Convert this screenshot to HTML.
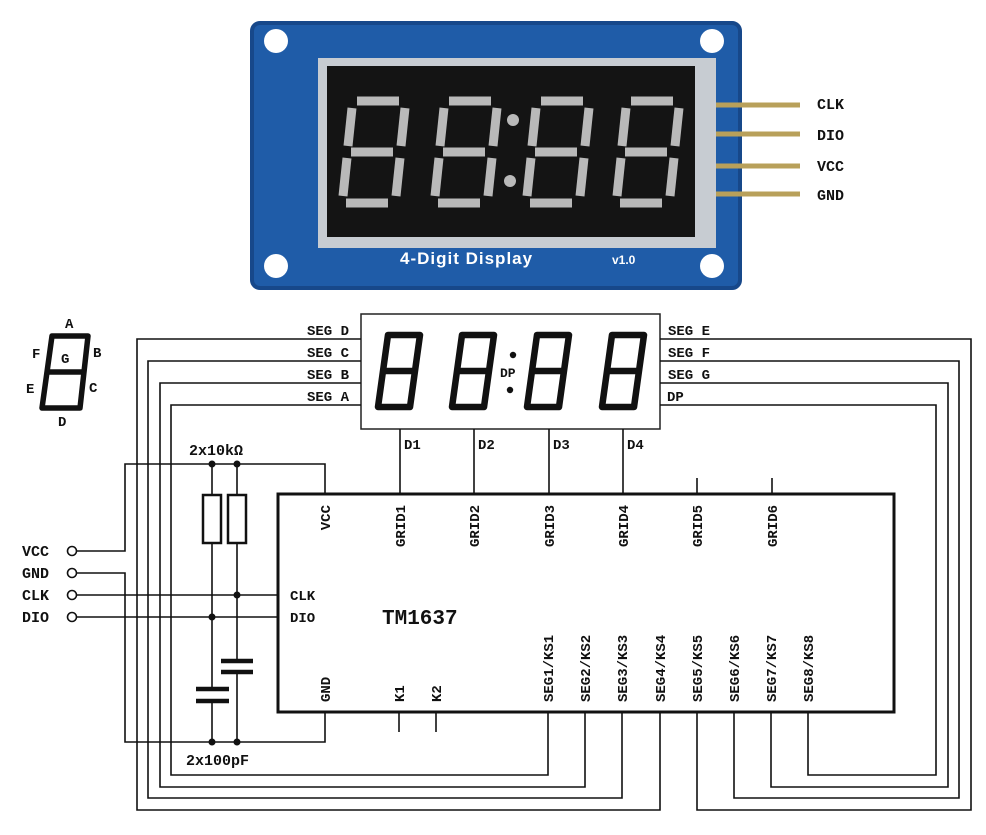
<!DOCTYPE html>
<html><head><meta charset="utf-8"><style>
html,body{margin:0;padding:0;background:#fff;}
svg{display:block;}
text{font-family:"Liberation Mono","DejaVu Sans Mono",monospace;font-weight:bold;fill:#111;}
</style></head><body>
<svg width="986" height="835" viewBox="0 0 986 835" xmlns="http://www.w3.org/2000/svg">
<defs>
<g id="dg"><path d="M13,3 H45 L35,75 H3 Z M8,39 H40" fill="none" stroke="#111" stroke-width="6.5" stroke-linejoin="round"/></g>
<g id="pd" stroke="#b9b9b9" stroke-width="9" fill="none">
<line x1="14" y1="5" x2="56" y2="5"/>
<line x1="8" y1="56" x2="50" y2="56"/>
<line x1="3" y1="107" x2="45" y2="107"/>
<line x1="9" y1="12" x2="5" y2="50"/>
<line x1="62" y1="12" x2="58" y2="50"/>
<line x1="4" y1="62" x2="0" y2="100"/>
<line x1="57" y1="62" x2="53" y2="100"/>
</g>
</defs>
<!-- photo -->
<rect x="252" y="23" width="488" height="265" rx="8" fill="#1f5ca8"/>
<rect x="252" y="23" width="488" height="265" rx="8" fill="none" stroke="#17488a" stroke-width="4"/>
<circle cx="276" cy="41" r="12" fill="#fff"/>
<circle cx="712" cy="41" r="12" fill="#fff"/>
<circle cx="276" cy="266" r="12" fill="#fff"/>
<circle cx="712" cy="266" r="12" fill="#fff"/>
<rect x="318" y="58" width="398" height="190" fill="#c7ccd2"/>
<rect x="327" y="66" width="368" height="171" fill="#141414"/>
<use href="#pd" x="343" y="96"/>
<use href="#pd" x="435" y="96"/>
<use href="#pd" x="527" y="96"/>
<use href="#pd" x="617" y="96"/>
<circle cx="513" cy="120" r="6" fill="#b9b9b9"/>
<circle cx="510" cy="181" r="6" fill="#b9b9b9"/>
<g stroke="#b8a05a" stroke-width="5">
<line x1="716" y1="105" x2="800" y2="105"/>
<line x1="716" y1="134" x2="800" y2="134"/>
<line x1="716" y1="166" x2="800" y2="166"/>
<line x1="716" y1="194" x2="800" y2="194"/>
</g>
<text x="400" y="264" style="fill:#fff;font-family:'Liberation Sans',sans-serif;font-size:17px;letter-spacing:1px">4-Digit Display</text>
<text x="612" y="264" style="fill:#fff;font-family:'Liberation Sans',sans-serif;font-size:12px">v1.0</text>
<g font-size="15"><text x="817" y="109">CLK</text><text x="817" y="140">DIO</text><text x="817" y="171">VCC</text><text x="817" y="200">GND</text></g>

<!-- small digit key -->
<path d="M52,336 H88 L80,408 H42 Z M47,372 H84" fill="none" stroke="#111" stroke-width="5.5" stroke-linejoin="round"/>
<g font-size="14"><text x="65" y="328">A</text><text x="32" y="358">F</text><text x="93" y="357">B</text><text x="61" y="363">G</text><text x="26" y="393">E</text><text x="89" y="392">C</text><text x="58" y="426">D</text></g>

<!-- display -->
<rect x="361" y="314" width="299" height="115" fill="none" stroke="#222" stroke-width="1.5"/>
<use href="#dg" x="375" y="332"/>
<use href="#dg" x="449" y="332"/>
<use href="#dg" x="524" y="332"/>
<use href="#dg" x="599" y="332"/>
<circle cx="513" cy="355" r="3.2" fill="#111"/>
<circle cx="510" cy="390" r="3.2" fill="#111"/>
<text x="500" y="377" font-size="13">DP</text>
<g font-size="14" text-anchor="end"><text x="349" y="335">SEG D</text><text x="349" y="357">SEG C</text><text x="349" y="379">SEG B</text><text x="349" y="401">SEG A</text></g>
<g font-size="14"><text x="668" y="335">SEG E</text><text x="668" y="357">SEG F</text><text x="668" y="379">SEG G</text><text x="667" y="401">DP</text></g>
<g font-size="14"><text x="404" y="449">D1</text><text x="478" y="449">D2</text><text x="553" y="449">D3</text><text x="627" y="449">D4</text></g>

<g fill="none" stroke="#111" stroke-width="1.6">
<!-- left seg wires -->
<polyline points="361,339 137,339 137,810 660,810 660,712"/>
<polyline points="361,361 148,361 148,798 622,798 622,712"/>
<polyline points="361,383 160,383 160,787 585,787 585,712"/>
<polyline points="361,405 171,405 171,775 548,775 548,712"/>
<!-- right seg wires -->
<polyline points="660,339 971,339 971,810 697,810 697,712"/>
<polyline points="660,361 959,361 959,798 734,798 734,712"/>
<polyline points="660,383 948,383 948,787 771,787 771,712"/>
<polyline points="660,405 936,405 936,775 808,775 808,712"/>
<!-- grids -->
<line x1="400" y1="429" x2="400" y2="494"/>
<line x1="474" y1="429" x2="474" y2="494"/>
<line x1="549" y1="429" x2="549" y2="494"/>
<line x1="623" y1="429" x2="623" y2="494"/>
<line x1="697" y1="478" x2="697" y2="494"/>
<line x1="772" y1="478" x2="772" y2="494"/>
<line x1="399" y1="712" x2="399" y2="732"/>
<line x1="436" y1="712" x2="436" y2="732"/>
<!-- power / signals -->
<polyline points="76,551 125,551 125,464 325,464 325,494"/>
<polyline points="76,573 125,573 125,742 325,742 325,712"/>
<line x1="76" y1="595" x2="278" y2="595"/>
<line x1="76" y1="617" x2="278" y2="617"/>
<line x1="212" y1="464" x2="212" y2="495"/>
<line x1="237" y1="464" x2="237" y2="495"/>
<line x1="212" y1="543" x2="212" y2="689"/>
<line x1="212" y1="701" x2="212" y2="742"/>
<line x1="237" y1="543" x2="237" y2="661"/>
<line x1="237" y1="672" x2="237" y2="742"/>
</g>
<g fill="none" stroke="#111" stroke-width="2.5">
<rect x="203" y="495" width="18" height="48"/>
<rect x="228" y="495" width="18" height="48"/>
</g>
<g stroke="#111" stroke-width="4.5">
<line x1="221" y1="661" x2="253" y2="661"/>
<line x1="221" y1="672" x2="253" y2="672"/>
<line x1="196" y1="689" x2="229" y2="689"/>
<line x1="196" y1="701" x2="229" y2="701"/>
</g>
<g fill="#111">
<circle cx="212" cy="464" r="3.5"/><circle cx="237" cy="464" r="3.5"/>
<circle cx="237" cy="595" r="3.5"/><circle cx="212" cy="617" r="3.5"/>
<circle cx="212" cy="742" r="3.5"/><circle cx="237" cy="742" r="3.5"/>
</g>
<g fill="#fff" stroke="#111" stroke-width="1.6">
<circle cx="72" cy="551" r="4.5"/><circle cx="72" cy="573" r="4.5"/><circle cx="72" cy="595" r="4.5"/><circle cx="72" cy="617" r="4.5"/>
</g>
<g font-size="15"><text x="22" y="556">VCC</text><text x="22" y="578">GND</text><text x="22" y="600">CLK</text><text x="22" y="622">DIO</text></g>
<text x="189" y="455" font-size="15">2x10kΩ</text>
<text x="186" y="765" font-size="15">2x100pF</text>

<!-- chip -->
<rect x="278" y="494" width="616" height="218" fill="none" stroke="#111" stroke-width="3"/>
<g font-size="14"><text x="290" y="600">CLK</text><text x="290" y="622">DIO</text></g>
<text x="382" y="624" font-size="21">TM1637</text>
<g font-size="14" text-anchor="end">
<text transform="translate(330,505) rotate(-90)">VCC</text>
<text transform="translate(405,505) rotate(-90)">GRID1</text>
<text transform="translate(479,505) rotate(-90)">GRID2</text>
<text transform="translate(554,505) rotate(-90)">GRID3</text>
<text transform="translate(628,505) rotate(-90)">GRID4</text>
<text transform="translate(702,505) rotate(-90)">GRID5</text>
<text transform="translate(777,505) rotate(-90)">GRID6</text>
</g>
<g font-size="14">
<text transform="translate(330,702) rotate(-90)">GND</text>
<text transform="translate(404,702) rotate(-90)">K1</text>
<text transform="translate(441,702) rotate(-90)">K2</text>
<text transform="translate(553,702) rotate(-90)">SEG1/KS1</text>
<text transform="translate(590,702) rotate(-90)">SEG2/KS2</text>
<text transform="translate(627,702) rotate(-90)">SEG3/KS3</text>
<text transform="translate(665,702) rotate(-90)">SEG4/KS4</text>
<text transform="translate(702,702) rotate(-90)">SEG5/KS5</text>
<text transform="translate(739,702) rotate(-90)">SEG6/KS6</text>
<text transform="translate(776,702) rotate(-90)">SEG7/KS7</text>
<text transform="translate(813,702) rotate(-90)">SEG8/KS8</text>
</g>
</svg>
</body></html>
